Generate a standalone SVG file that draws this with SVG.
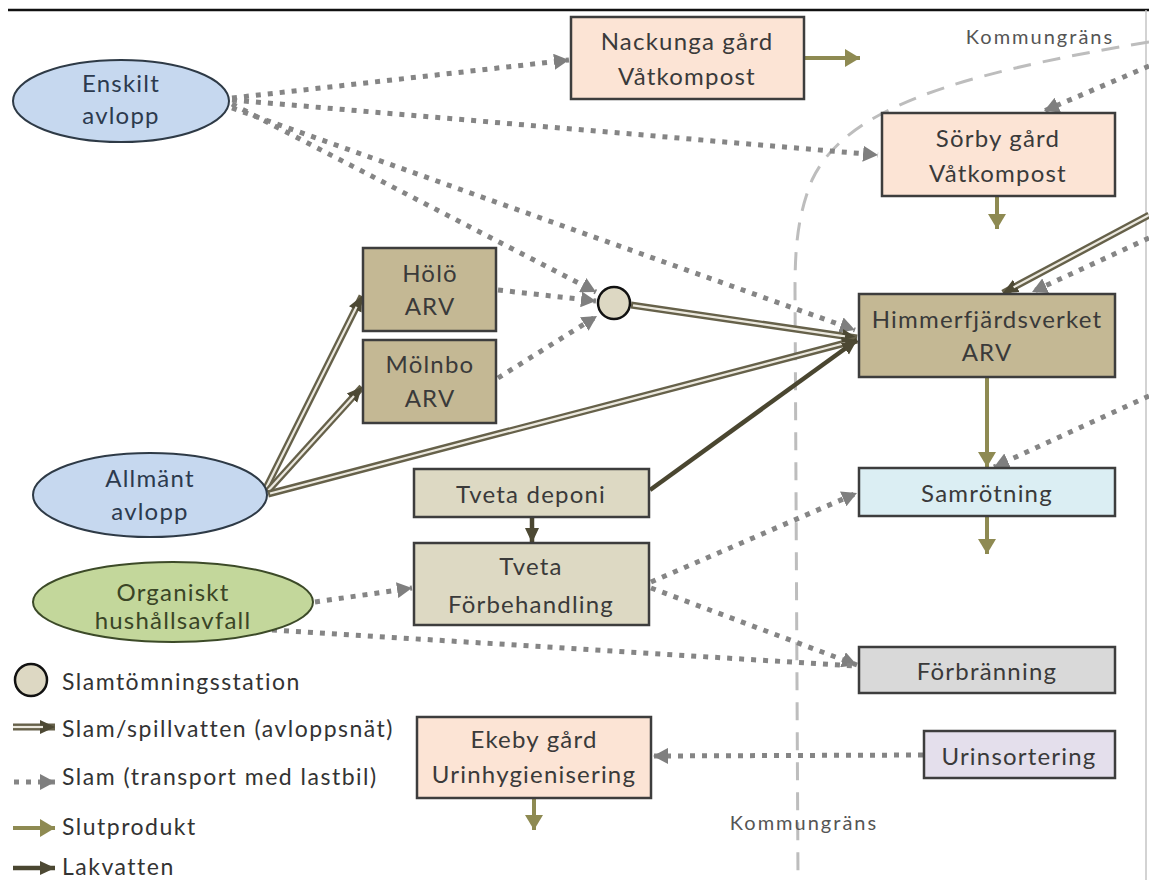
<svg xmlns="http://www.w3.org/2000/svg" width="1149" height="880" viewBox="0 0 1149 880">
<style>
.node{stroke:#3d3d3d;stroke-width:2.5}
.ell{stroke:#2e3a46;stroke-width:2}
.t{font-family:Lato,"Open Sans",sans-serif;font-size:24px;letter-spacing:1.2px;fill:#3a3a3a;text-anchor:middle}
.lg{font-family:Lato,"Open Sans",sans-serif;font-size:23px;letter-spacing:1.5px;fill:#333}
.kg{font-family:Lato,"Open Sans",sans-serif;font-size:20px;letter-spacing:2px;fill:#555;text-anchor:middle}
.dot{fill:none;stroke:#858585;stroke-width:5;stroke-dasharray:5 7}
.dblo{fill:none;stroke:#66614a;stroke-width:7}
.dbli{fill:none;stroke:#ece9df;stroke-width:2.2}
.olv{fill:none;stroke:#8e8a52;stroke-width:4}
.lak{fill:none;stroke:#4a4630;stroke-width:4.5}
</style>
<defs>
<marker id="mg" markerUnits="userSpaceOnUse" markerWidth="16" markerHeight="16" refX="15" refY="8" orient="auto"><path d="M0,0 L15,8 L0,16 z" fill="#7f7f7f"/></marker>
<marker id="md" markerUnits="userSpaceOnUse" markerWidth="16" markerHeight="16" refX="15" refY="8" orient="auto"><path d="M0,1 L15,8 L0,15 z" fill="#4d4934"/></marker>
<marker id="mo" markerUnits="userSpaceOnUse" markerWidth="16" markerHeight="18" refX="15" refY="9" orient="auto"><path d="M0,0 L15,9 L0,18 z" fill="#8e8a52"/></marker>
</defs>
<rect width="1149" height="880" fill="#ffffff"/>
<line x1="8" y1="10" x2="1149" y2="10" stroke="#111" stroke-width="2.5"/>
<line x1="1146" y1="10" x2="1146" y2="880" stroke="#c4c4c4" stroke-width="1.5"/>

<g id="kommungrans">
<path d="M1149,42 C 950,75 845,110 812,180 C 798,215 795,245 795,290 L 798,880" fill="none" stroke="#bdbdbd" stroke-width="3" stroke-dasharray="18 12"/>
<text class="kg" x="1040" y="44">Kommungräns</text>
<text class="kg" x="804" y="830">Kommungräns</text>
</g>

<g id="connectors">
<path class="dot" d="M232,98 L569,60" marker-end="url(#mg)"/>
<path class="dot" d="M232,100 L878,155" marker-end="url(#mg)"/>
<path class="dot" d="M232,104 L596,292" marker-end="url(#mg)"/>
<path class="dot" d="M232,108 L855,330" marker-end="url(#mg)"/>
<path class="dot" d="M498,290 L596,301" marker-end="url(#mg)"/>
<path class="dot" d="M498,378 L597,316" marker-end="url(#mg)"/>
<path class="dot" d="M1149,66 L1044,111" marker-end="url(#mg)"/>
<path class="dot" d="M1149,238 L1032,292" marker-end="url(#mg)"/>
<path class="dot" d="M1149,396 L994,467" marker-end="url(#mg)"/>
<path class="dot" d="M651,582 L857,493" marker-end="url(#mg)"/>
<path class="dot" d="M651,588 L857,665" marker-end="url(#mg)"/>
<path class="dot" d="M315,602 L412,588" marker-end="url(#mg)"/>
<path class="dot" d="M272,630 L855,666"/>
<path class="dot" d="M923,755 L653,756" marker-end="url(#mg)"/>

<path class="dblo" d="M631,305 L857,338" marker-end="url(#md)"/>
<path class="dbli" d="M633,305.3 L845,336.3"/>
<path class="dblo" d="M265,490 L362,296" marker-end="url(#md)"/>
<path class="dbli" d="M266,488 L356.6,306.7"/>
<path class="dblo" d="M267,492 L362,387" marker-end="url(#md)"/>
<path class="dbli" d="M268.5,490.3 L354,395.9"/>
<path class="dblo" d="M268,494 L857,340" marker-end="url(#md)"/>
<path class="dbli" d="M270,493.5 L845.4,343"/>
<path class="dblo" d="M1149,215 L1003,293" marker-end="url(#md)"/>
<path class="dbli" d="M1149,215 L1013.6,287.3"/>

<path class="lak" d="M650,490 L857,340" marker-end="url(#md)"/>
<path class="lak" d="M532,517 L532,543" marker-end="url(#md)"/>

<path class="olv" d="M805,58 L860,58" marker-end="url(#mo)"/>
<path class="olv" d="M997,197 L997,229" marker-end="url(#mo)"/>
<path class="olv" d="M987,378 L987,467" marker-end="url(#mo)"/>
<path class="olv" d="M987,517 L987,554" marker-end="url(#mo)"/>
<path class="olv" d="M534,799 L534,830" marker-end="url(#mo)"/>
</g>

<g id="enskilt">
<ellipse class="ell" cx="121" cy="101" rx="108" ry="41" fill="#c6d8ef"/>
<text class="t" x="121" y="92" style="fill:#2c3a4e">Enskilt</text>
<text class="t" x="121" y="124" style="fill:#2c3a4e">avlopp</text>
</g>
<g id="allmant">
<ellipse class="ell" cx="150" cy="495" rx="117" ry="42" fill="#c6d8ef"/>
<text class="t" x="150" y="487" style="fill:#2c3a4e">Allmänt</text>
<text class="t" x="150" y="520" style="fill:#2c3a4e">avlopp</text>
</g>
<g id="organiskt">
<ellipse class="ell" cx="173" cy="602" rx="140" ry="40" fill="#c3d79b" style="stroke:#3c4a28"/>
<text class="t" x="173" y="601" style="fill:#3a4526">Organiskt</text>
<text class="t" x="173" y="629" style="fill:#3a4526">hushållsavfall</text>
</g>
<g id="nackunga">
<rect class="node" x="571" y="17" width="233" height="82" fill="#fce4d5"/>
<text class="t" x="687" y="50">Nackunga gård</text>
<text class="t" x="687" y="85">Våtkompost</text>
</g>
<g id="sorby">
<rect class="node" x="882" y="113" width="233" height="83" fill="#fce4d5"/>
<text class="t" x="998" y="147">Sörby gård</text>
<text class="t" x="998" y="182">Våtkompost</text>
</g>
<g id="holo">
<rect class="node" x="363" y="248" width="133" height="83" fill="#c4b894"/>
<text class="t" x="430" y="282">Hölö</text>
<text class="t" x="430" y="315">ARV</text>
</g>
<g id="molnbo">
<rect class="node" x="363" y="340" width="133" height="83" fill="#c4b894"/>
<text class="t" x="430" y="373">Mölnbo</text>
<text class="t" x="430" y="407">ARV</text>
</g>
<g id="station">
<circle cx="614" cy="303" r="16" fill="#ddd8c3" stroke="#111" stroke-width="2.5"/>
</g>
<g id="himmerfjard">
<rect class="node" x="859" y="294" width="256" height="83" fill="#c4b894"/>
<text class="t" x="987" y="328">Himmerfjärdsverket</text>
<text class="t" x="987" y="361">ARV</text>
</g>
<g id="samrotning">
<rect class="node" x="859" y="468" width="256" height="48" fill="#dbeef3"/>
<text class="t" x="987" y="502">Samrötning</text>
</g>
<g id="tveta-deponi">
<rect class="node" x="414" y="469" width="235" height="48" fill="#ddd9c3"/>
<text class="t" x="531" y="503">Tveta deponi</text>
</g>
<g id="tveta-forbehandling">
<rect class="node" x="414" y="543" width="235" height="82" fill="#ddd9c3"/>
<text class="t" x="531" y="575">Tveta</text>
<text class="t" x="531" y="613">Förbehandling</text>
</g>
<g id="forbranning">
<rect class="node" x="859" y="647" width="256" height="46" fill="#d9d9d9"/>
<text class="t" x="987" y="680">Förbränning</text>
</g>
<g id="urinsortering">
<rect class="node" x="924" y="731" width="191" height="47" fill="#e4dfec"/>
<text class="t" x="1019" y="765">Urinsortering</text>
</g>
<g id="ekeby">
<rect class="node" x="417" y="717" width="234" height="81" fill="#fce4d5"/>
<text class="t" x="534" y="748">Ekeby gård</text>
<text class="t" x="534" y="783">Urinhygienisering</text>
</g>

<g id="legend">
<circle cx="31" cy="680" r="16" fill="#ddd8c3" stroke="#111" stroke-width="2.5"/>
<text class="lg" x="62" y="690">Slamtömningsstation</text>
<path class="dblo" d="M13,727 L55,727" marker-end="url(#md)"/>
<path class="dbli" d="M13,727 L43,727"/>
<text class="lg" x="62" y="737">Slam/spillvatten (avloppsnät)</text>
<path class="dot" d="M14,782 L55,782" marker-end="url(#mg)"/>
<text class="lg" x="62" y="785">Slam (transport med lastbil)</text>
<path class="olv" d="M13,828 L55,828" marker-end="url(#mo)"/>
<text class="lg" x="62" y="835">Slutprodukt</text>
<path class="lak" d="M13,868 L55,868" marker-end="url(#md)"/>
<text class="lg" x="62" y="875">Lakvatten</text>
</g>
</svg>
